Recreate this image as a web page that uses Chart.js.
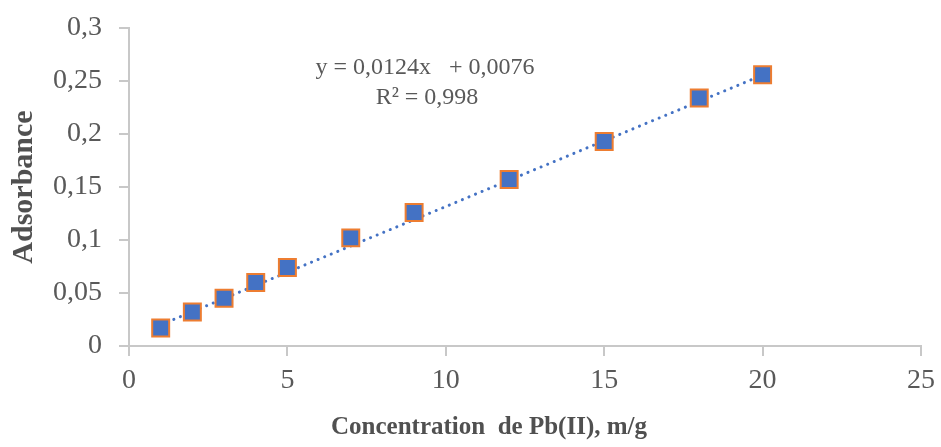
<!doctype html>
<html>
<head>
  <meta charset="utf-8">
  <script src="https://cdn.jsdelivr.net/npm/chart.js"></script>
  <style>
    html, body { margin: 0; padding: 0; background: #fff; }
    #wrap { width: 941px; height: 447px; }
  </style>
</head>
<body>
  <div id="wrap"><canvas id="calib"></canvas></div>
  <script>
    // measured points
    var conc = [1, 2, 3, 4, 5, 7, 9, 12, 15, 18, 20];
    var absorb = [0.017, 0.032, 0.045, 0.060, 0.074, 0.102, 0.126, 0.157, 0.193, 0.234, 0.256];

    // trend line ends (y = 0,0124x + 0,0076)
    var trendX = [1, 20];
    var trendY = [0.0200, 0.2556];

    var eqLines = ['y = 0,0124x   + 0,0076', 'R\u00b2 = 0,998'];
    var xTitle = 'Concentration  de Pb(II), m/g';
    var yTitle = 'Adsorbance';

    var serif = '"Liberation Serif", "Times New Roman", serif';
    var grey = '#595959';

    var textPlugin = {
      id: 'texts',
      afterDraw: function (chart) {
        var c = chart.ctx;
        c.save();
        c.fillStyle = grey;
        c.textAlign = 'center';
        c.textBaseline = 'middle';
        c.font = '24px ' + serif;
        c.fillText(eqLines[0], 425, 68);
        c.fillText(eqLines[1], 427, 98);
        c.font = 'bold 25px ' + serif;
        c.fillStyle = '#505050';
        c.fillText(xTitle, 489, 428);
        c.font = 'bold 30px ' + serif;
        c.translate(24, 187);
        c.rotate(-Math.PI / 2);
        c.fillText(yTitle, 0, 0);
        c.restore();
      }
    };

    var ctx = document.getElementById('calib').getContext('2d');
    var chart = new Chart(ctx, {
      data: {
        datasets: [{
          type: 'scatter',
          data: conc.map(function (x, i) { return { x: x, y: absorb[i] }; }),
          pointStyle: 'rect',
          radius: 12,
          hoverRadius: 12,
          backgroundColor: '#4472C4',
          borderColor: '#ED7D31',
          borderWidth: 2,
          order: 1
        }, {
          type: 'line',
          data: trendX.map(function (x, i) { return { x: x, y: trendY[i] }; }),
          borderColor: '#4472C4',
          borderWidth: 3,
          borderDash: [0.1, 7],
          borderCapStyle: 'round',
          pointRadius: 0,
          fill: false,
          order: 2
        }]
      },
      options: {
        responsive: true,
        maintainAspectRatio: false,
        animation: false,
        layout: { padding: { top: 28, right: 20, left: 0, bottom: 0 } },
        plugins: { legend: { display: false }, tooltip: { enabled: false } },
        scales: {
          x: {
            type: 'linear',
            min: 0,
            max: 25,
            ticks: { stepSize: 5, color: grey, font: { family: serif, size: 28 }, padding: 8 },
            grid: { drawOnChartArea: false, color: '#c8c8c8', tickLength: 10, lineWidth: 2 },
            border: { color: '#c8c8c8', width: 2 },
            afterFit: function (s) { s.height = 101; s.paddingLeft = 0; s.paddingRight = 0; }
          },
          y: {
            min: 0,
            max: 0.3,
            ticks: {
              stepSize: 0.05,
              color: grey,
              font: { family: serif, size: 28 },
              padding: 17,
              callback: function (v) { return String(Math.round(v * 100) / 100).replace('.', ','); }
            },
            grid: { drawOnChartArea: false, color: '#c8c8c8', tickLength: 10, lineWidth: 2 },
            border: { color: '#c8c8c8', width: 2 },
            afterFit: function (s) { s.width = 129; s.paddingTop = 0; s.paddingBottom = 0; }
          }
        }
      },
      plugins: [textPlugin]
    });
  </script>
</body>
</html>
